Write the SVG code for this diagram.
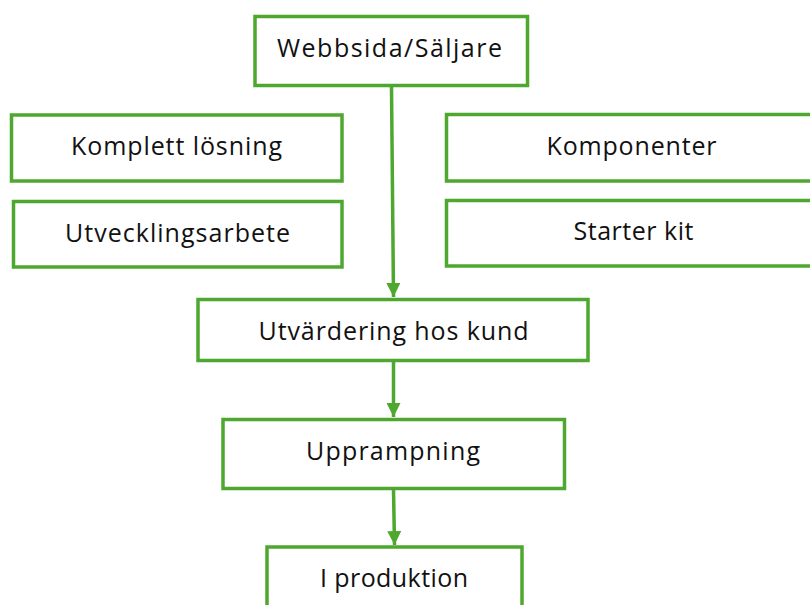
<svg xmlns="http://www.w3.org/2000/svg" width="810" height="605" viewBox="0 0 810 605">
<style>
.box{fill:#fff;stroke:#4EA72E;stroke-width:3.5}
.lbl{font-family:"Open Sans","Liberation Sans",sans-serif;font-size:25px;fill:#111;text-anchor:middle}
.conn{stroke:#4EA72E;stroke-width:3.5;fill:none}
</style>
<defs>
<marker id="ah" markerUnits="userSpaceOnUse" markerWidth="16" markerHeight="14" refX="15" refY="7.5" orient="auto" viewBox="0 0 16 15">
<path d="M0,0 L15,7.5 L0,15 Z" fill="#4EA72E"/>
</marker>
</defs>
<rect x="0" y="0" width="810" height="605" fill="#fff"/>
<g id="n-webbsida"><rect class="box" x="255" y="16.5" width="272.5" height="69"/><text class="lbl" x="389.5" y="57" textLength="225" lengthAdjust="spacing">Webbsida/Säljare</text></g>
<g id="n-komplett"><rect class="box" x="11.5" y="115" width="330.5" height="66"/><text class="lbl" x="176.5" y="155" textLength="211" lengthAdjust="spacing">Komplett lösning</text></g>
<g id="n-utveckling"><rect class="box" x="13.5" y="201.5" width="328.5" height="65.5"/><text class="lbl" x="177.5" y="241.5" textLength="225" lengthAdjust="spacing">Utvecklingsarbete</text></g>
<g id="n-komponenter"><rect class="box" x="446.5" y="114.5" width="370" height="66.5"/><text class="lbl" x="631.5" y="155" textLength="170" lengthAdjust="spacing">Komponenter</text></g>
<g id="n-starter"><rect class="box" x="446.5" y="200.5" width="370" height="65.5"/><text class="lbl" x="633.5" y="240" textLength="120" lengthAdjust="spacing">Starter kit</text></g>
<g id="n-utvardering"><rect class="box" x="198" y="299.5" width="390" height="61"/><text class="lbl" x="393.5" y="340" textLength="270" lengthAdjust="spacing">Utvärdering hos kund</text></g>
<g id="n-upprampning"><rect class="box" x="223" y="419.5" width="341.5" height="69"/><text class="lbl" x="393" y="460" textLength="174" lengthAdjust="spacing">Upprampning</text></g>
<g id="n-produktion"><rect class="box" x="267" y="547" width="255" height="70"/><text class="lbl" x="394" y="587" textLength="148" lengthAdjust="spacing">I produktion</text></g>
<g id="connectors">
<line class="conn" x1="391.5" y1="87" x2="393.5" y2="297" marker-end="url(#ah)"/>
<line class="conn" x1="393.5" y1="362" x2="393.5" y2="417" marker-end="url(#ah)"/>
<line class="conn" x1="393.5" y1="490" x2="394.5" y2="545" marker-end="url(#ah)"/>
</g>
</svg>
